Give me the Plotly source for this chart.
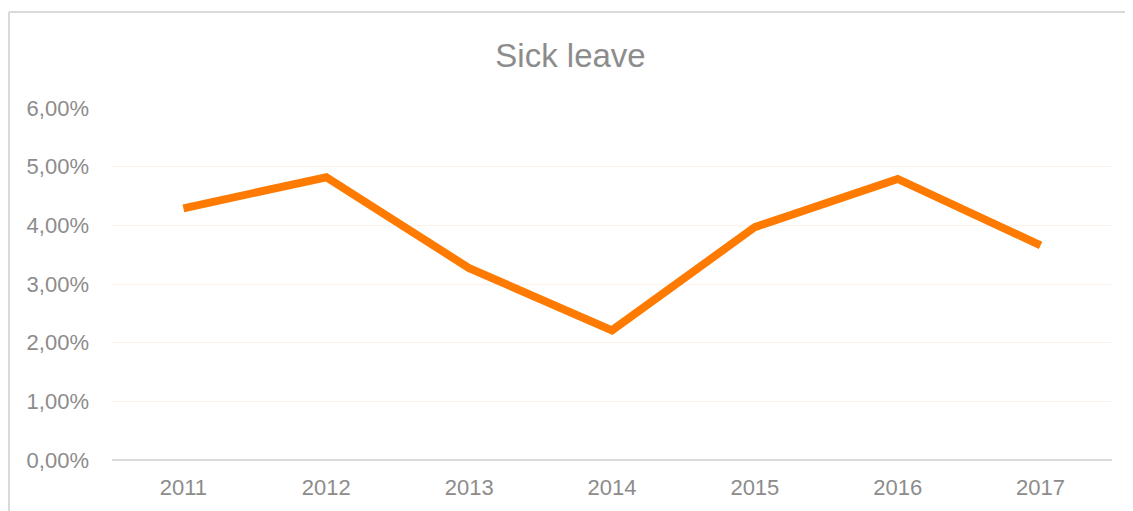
import plotly.graph_objects as go

years = ["2011", "2012", "2013", "2014", "2015", "2016", "2017"]
sick_leave = [0.0429, 0.0482, 0.0327, 0.0221, 0.0397, 0.0479, 0.0366]
y_ticks = [0, 0.01, 0.02, 0.03, 0.04, 0.05, 0.06]

fig = go.Figure()
fig.add_trace(go.Scatter(
    x=years, y=sick_leave, mode="lines",
    line=dict(color="#FF7A00", width=8),
    hoverinfo="x+y",
))

font_family = "Liberation Sans, Arial, sans-serif"
# page body has an 8px margin, so the figure is 1125x503
fig.update_layout(
    width=1125, height=503,
    margin=dict(l=104, r=21, t=100, b=51),
    paper_bgcolor="white", plot_bgcolor="white",
    separators=", ",
    showlegend=False,
    title=dict(text="Sick leave", x=0.5, xanchor="center", y=0.905, yanchor="middle",
               font=dict(family=font_family, size=33, color="#8C8C8C")),
    font=dict(family=font_family, color="#8C8C8C", size=21),
)
fig.update_xaxes(
    type="category", range=[-0.5, 6.5], showgrid=False, showline=False, zeroline=False,
    ticks="", ticklabelstandoff=12,
    tickfont=dict(size=22, color="#8C8C8C"),
)
fig.update_yaxes(
    range=[0, 0.06], tickvals=y_ticks, tickformat=".2%",
    showgrid=True, gridcolor="#FDF1E8", gridwidth=1,
    zeroline=True, zerolinecolor="#D9D9D9", zerolinewidth=2,
    showline=False, ticks="", ticklabelstandoff=22,
    tickfont=dict(size=22, color="#8C8C8C"),
)
# outer chart-area border: only top and left edges are visible in the frame
border = dict(color="#D9D9D9", width=2)
fig.add_shape(type="line", xref="paper", yref="paper",
              x0=-0.103, x1=1.03, y0=1.2727, y1=1.2727, line=border, layer="below")
fig.add_shape(type="line", xref="paper", yref="paper",
              x0=-0.103, x1=-0.103, y0=-0.3, y1=1.2727, line=border, layer="below")

fig.write_html("out.html")
